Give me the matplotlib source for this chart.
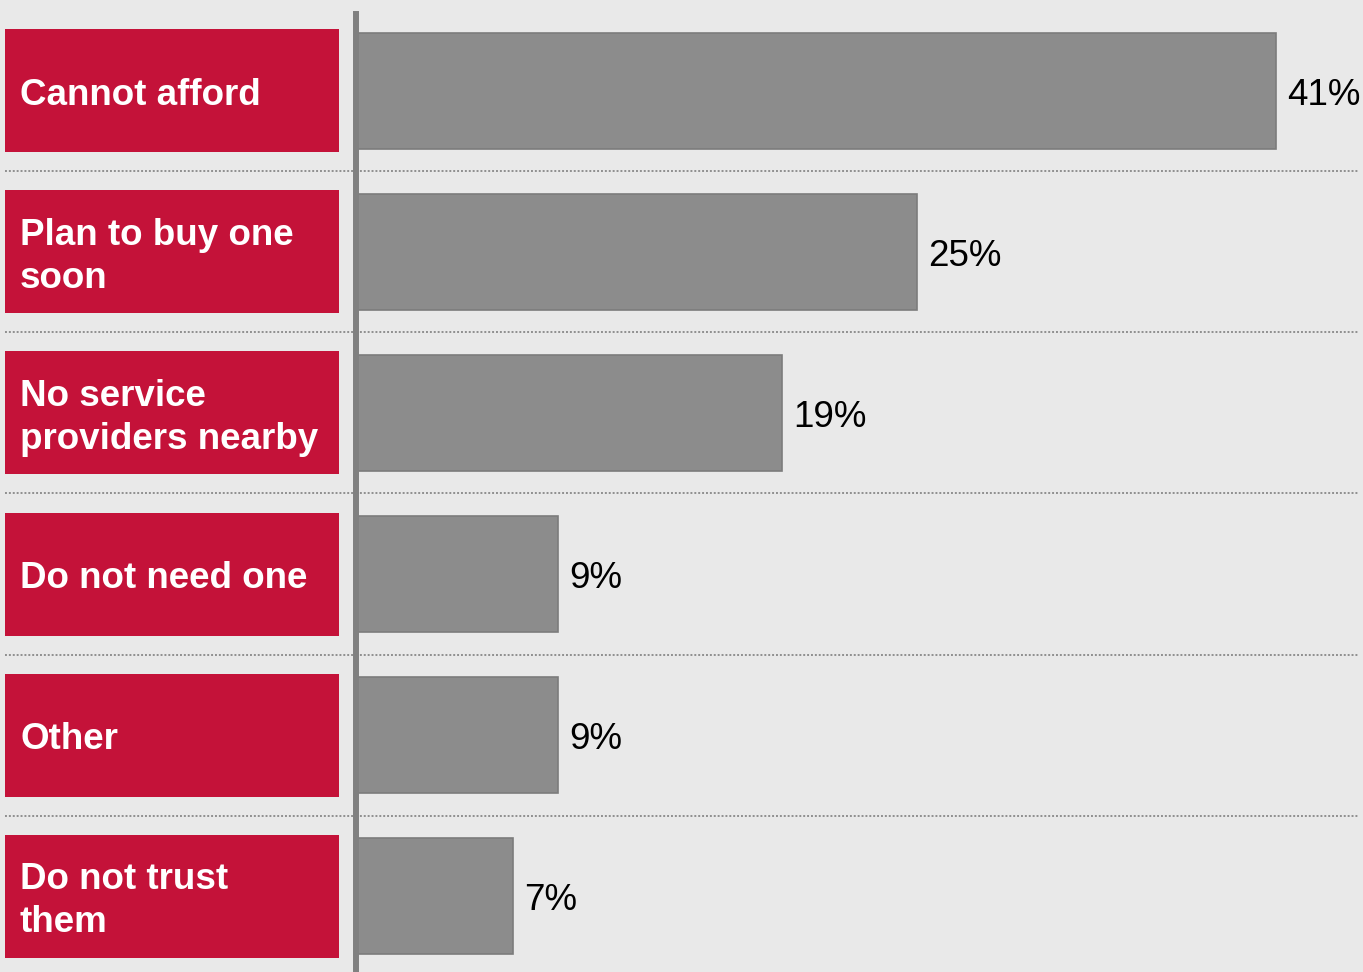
import matplotlib.pyplot as plt
from matplotlib.patches import Rectangle

reasons = ["Cannot afford", "Plan to buy one\nsoon", "No service\nproviders nearby",
           "Do not need one", "Other", "Do not trust\nthem"]
shares = [41, 25, 19, 9, 9, 7]

bg = "#e9e9e9"
red = "#c41239"
bar_grey = "#8c8c8c"

W, H = 1363, 972
fig = plt.figure(figsize=(W / 100, H / 100), dpi=100, facecolor=bg)

split = 356
# left panel holds the red category boxes, right panel the bars
ax_lab = fig.add_axes([0, 0, split / W, 1])
ax = fig.add_axes([split / W, 0, 1 - split / W, 1], sharey=ax_lab)

n = len(reasons)
pitch = 161
top = -91 / pitch
bottom = (H - 91) / pitch
ax.set_ylim(bottom, top)

# label panel, x in pixels
ax_lab.set_xlim(0, split)
ax_lab.set_facecolor(bg)
ax_lab.axis("off")
box_h = 123 / pitch
for i, r in enumerate(reasons):
    ax_lab.add_patch(Rectangle((5, i - box_h / 2), 334, box_h, facecolor=red,
                               edgecolor="none"))
    ax_lab.annotate(r, (20, i), xytext=(0, -3.5), textcoords="offset points",
                    color="white", fontsize=26.5, fontweight="bold",
                    family="Liberation Sans", va="center", ha="left",
                    linespacing=1.32)

# bars
ax.set_facecolor(bg)
ax.set_xlim(0, (W - split) / 22.44)
ax.barh(range(n), shares, height=116 / pitch, color=bar_grey,
        edgecolor="#7c7c7c", linewidth=1.2, zorder=2)
for i, v in enumerate(shares):
    ax.annotate(f"{v}%", (v, i), xytext=(8, -3.5), textcoords="offset points",
                va="center", ha="left", fontsize=26.5, family="Liberation Sans",
                color="black")

# dotted separators between rows
for i in range(n - 1):
    y = i + 0.5
    ax_lab.plot([5, split], [y, y], color="#8f8f8f", lw=1.4,
                linestyle=(0, (1, 1)), zorder=1)
    ax.axhline(y, xmin=0, xmax=(1358 - split) / (W - split), color="#8f8f8f",
               lw=1.4, linestyle=(0, (1, 1)), zorder=1)

for s in ["top", "right", "bottom"]:
    ax.spines[s].set_visible(False)
ax.spines["left"].set_color("#808080")
ax.spines["left"].set_linewidth(4.3)
ax.spines["left"].set_bounds(-0.5 + 4 / pitch, bottom)
ax.spines["left"].set_zorder(3)
ax.set_xticks([])
ax.tick_params(left=False, labelleft=False)

fig.savefig("out.png", dpi=100, facecolor=bg)
